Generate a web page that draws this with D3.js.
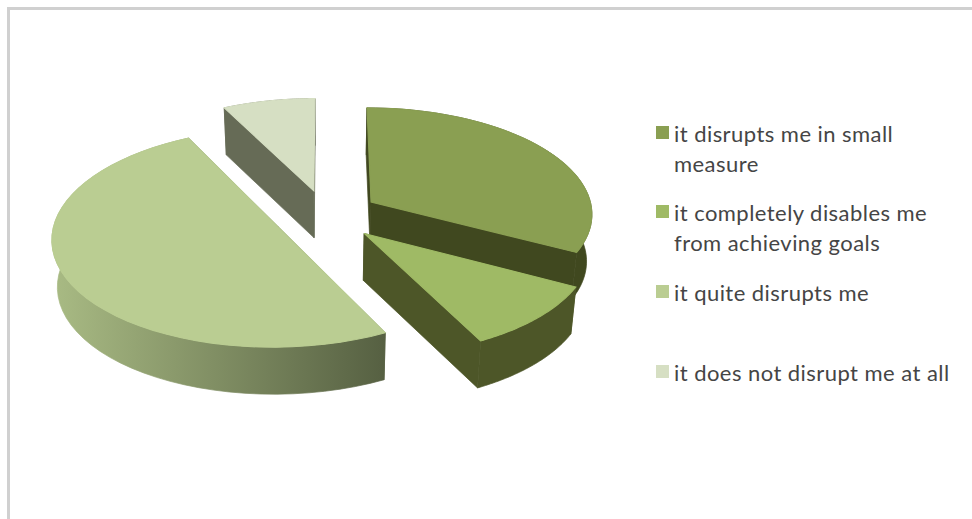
<!DOCTYPE html>
<html>
<head>
<meta charset="utf-8">
<script src="https://cdn.jsdelivr.net/npm/d3@7"></script>
<style>
html, body { margin: 0; padding: 0; background: #fff; overflow: hidden; }
svg { display: block; }
</style>
</head>
<body>
<svg id="chart" width="972" height="519"></svg>
<script>
// Survey answers, in percent of respondents
const categories = [
  "it disrupts me in small measure",
  "it completely disables me from achieving goals",
  "it quite disrupts me",
  "it does not disrupt me at all"
];
const shares = [32.7, 9.8, 50, 7.5];

// Wrapped legend text, one array per answer
const legendLines = [
  ["it disrupts me in small", "measure"],
  ["it completely disables me", "from achieving goals"],
  ["it quite disrupts me"],
  ["it does not disrupt me at all"]
];
const legendTops = [126, 205, 285, 365];

const topColors = ["#8a9f52", "#9fba65", "#bacd92", "#d6dfc3"];
const cutColors = ["#40481f", "#4d5628", "#5a6344", "#666b56"];
const rimColors = [
  ["#40481f", "#40481f"],
  ["#4d5628", "#4d5628"],
  ["#a9bb84", "#566042"],
  ["#666b56", "#666b56"]
];

// Depth of the disc and the view of its plane
const center = { x: 326, y: 215 };
const radiusX = 222;
const radiusY = 106;
const thickness = 47;
const perspective = 0.1;
const bottomShrink = 0.02;
const explode = 0.24;
const seamWidth = 0.7;

const svg = d3.select("#chart");

// Chart frame: only the top and left edges fall inside the page
svg.append("path")
  .attr("class", "frame")
  .attr("d", "M8.5,519V8.5H972")
  .attr("fill", "none").attr("stroke", "#d0d0d0").attr("stroke-width", 3);

const defs = svg.append("defs");

const slices = d3.pie().sort(null).value(d => d).startAngle(0).endAngle(2 * Math.PI)(shares);

// Plane coordinates to the screen: nearer points sit lower and spread wider,
// and the underside of the disc is slightly narrower than its top.
function project(px, py, drop) {
  const m = 1 / (1 - perspective * py);
  const squeeze = 1 - bottomShrink * drop / thickness;
  return [center.x + radiusX * px * m * squeeze, center.y + radiusY * py * m + drop];
}

const outline = d3.line();
const arcSamples = 48;

function buildSlice(slice) {
  const mid = (slice.startAngle + slice.endAngle) / 2;
  const ox = explode * Math.sin(mid);
  const oy = -explode * Math.cos(mid);
  const at = (angle, r, drop) =>
    project(ox + r * Math.sin(angle), oy - r * Math.cos(angle), drop);
  const angles = d3.range(arcSamples + 1).map(i =>
    slice.startAngle + (slice.endAngle - slice.startAngle) * i / arcSamples);
  return { at, angles };
}

// Back-to-front painting order
const paintOrder = [3, 0, 2, 1];

paintOrder.forEach(idx => {
  const slice = slices[idx];
  const { at, angles } = buildSlice(slice);
  const g = svg.append("g").attr("class", "slice");

  const apexTop = at(0, 0, 0);
  const apexLow = at(0, 0, thickness);

  // Straight cut walls
  [slice.startAngle, slice.endAngle].forEach(a => {
    g.append("path")
      .attr("d", outline([apexTop, at(a, 1, 0), at(a, 1, thickness), apexLow]) + "Z")
      .attr("fill", cutColors[idx])
      .attr("stroke", cutColors[idx]).attr("stroke-width", seamWidth);
  });

  // Curved outer wall, shaded across its width
  const rimTop = angles.map(a => at(a, 1, 0));
  const rimLow = angles.map(a => at(a, 1, thickness));
  const rimPts = rimTop.concat(rimLow.slice().reverse());
  const xs = d3.extent(rimTop, p => p[0]);
  const gradId = "rim" + idx;
  const grad = defs.append("linearGradient")
    .attr("id", gradId)
    .attr("gradientUnits", "userSpaceOnUse")
    .attr("x1", xs[0]).attr("x2", xs[1]).attr("y1", 0).attr("y2", 0);
  grad.append("stop").attr("offset", 0).attr("stop-color", rimColors[idx][0]);
  grad.append("stop").attr("offset", 1).attr("stop-color", rimColors[idx][1]);
  g.append("path")
    .attr("d", outline(rimPts) + "Z")
    .attr("fill", `url(#${gradId})`)
    .attr("stroke", `url(#${gradId})`).attr("stroke-width", seamWidth);

  // Top face, stroked in its own colour so the walls do not show around it
  g.append("path")
    .attr("d", outline([apexTop].concat(rimTop)) + "Z")
    .attr("fill", topColors[idx])
    .attr("stroke", topColors[idx]).attr("stroke-width", seamWidth + 0.4);
});

// Legend
const legend = svg.append("g").attr("class", "legend");
categories.forEach((name, i) => {
  const row = legend.append("g");
  row.append("rect")
    .attr("x", 656).attr("y", legendTops[i])
    .attr("width", 13).attr("height", 13)
    .attr("fill", topColors[i]);
  const label = row.append("text")
    .attr("font-family", "Lato, 'Open Sans', sans-serif")
    .attr("font-size", 22)
    .attr("letter-spacing", 0.45)
    .attr("fill", "#454545");
  legendLines[i].forEach((line, j) => {
    label.append("tspan")
      .attr("x", 674)
      .attr("y", legendTops[i] + 16 + j * 30)
      .text(line);
  });
});
</script>
</body>
</html>
